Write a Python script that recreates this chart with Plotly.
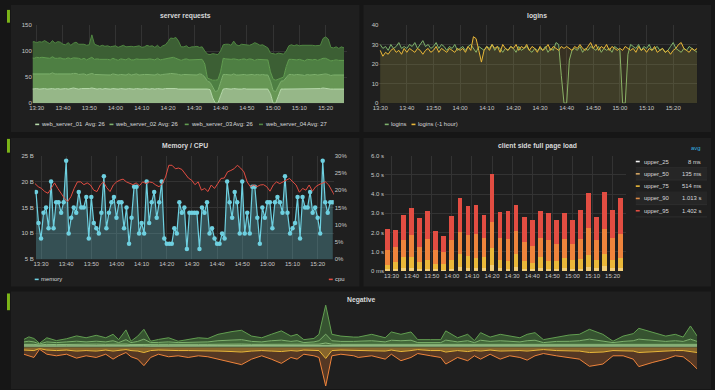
import pandas as pd
import plotly.graph_objects as go

W, H = 715, 390
DAY = "2016-01-01 "
FONT = "Liberation Sans"

def px(x):
    return x / W

def py(y):
    return 1 - y / H

# ---------------- data: server requests (per minute, 13:28 ->) ----------------
req_names = ["web_server_01", "web_server_02", "web_server_03", "web_server_04"]
req_avgs = ["Avg: 26", "Avg: 26", "Avg: 26", "Avg: 27"]
s1 = [27,28,28,27,28,28,27,28,28,27, 28,27,28,28,27,28,29,28,27,28,
      28,27,28,29,28,27,28,27,28,27, 27,28,27,27,28,27,27,28,27,27,
      28,27,27,28,27,27,28,27,28,27, 27,28,28,29,28,28,27,27,28,27,
      27,28,27,27,28,27,27,27,26,10, 0,0,14,27,28,27,27,28,27,27,
      27,28,27,27,28,27,27,27,28,27, 27,18,0,0,12,27,27,27,27,28,
      27,27,28,27,27,28,27,27,28,27, 28,29,28,28,27,27,27,28,27,27]
s2 = [29,28,29,30,28,29,29,28,30,29, 28,29,28,27,29,28,28,29,28,27,
      28,27,28,28,27,28,27,28,27,28, 27,28,28,27,27,28,27,28,27,28,
      28,27,28,27,28,28,27,27,28,27, 28,27,28,28,29,28,28,27,27,28,
      27,27,28,27,28,28,23,15,14,20, 22,24,26,28,27,28,27,28,27,27,
      28,27,27,28,27,27,28,27,27,27, 27,24,24,22,20,15,16,23,28,27,
      27,28,27,27,26,27,27,28,27,27, 27,27,28,27,26,27,27,26,27,27]
s3 = [31,30,31,30,32,30,31,30,31,30, 30,31,29,30,31,29,30,30,31,29,
      30,29,30,31,29,30,29,29,30,29, 29,30,29,28,30,29,29,30,29,28,
      29,30,29,28,29,30,29,29,30,29, 29,30,29,30,31,30,29,28,29,30,
      29,28,29,29,28,29,25,6,6,14, 22,21,20,31,30,29,30,29,30,29,
      29,30,29,30,29,28,29,30,29,29, 29,18,22,22,14,6,7,20,29,29,
      29,28,29,29,28,29,29,28,29,28, 29,30,30,29,28,28,29,28,28,28]
s4 = [30,32,28,31,29,33,30,28,31,29, 32,30,28,27,29,26,28,30,27,29,
      27,28,26,43,29,26,25,27,24,26, 25,23,26,25,24,27,25,23,26,25,
      24,26,23,25,27,24,26,24,25,23, 26,27,33,38,36,40,35,26,24,25,
      23,25,24,26,23,24,25,46,47,51, 50,48,40,26,28,29,27,34,28,27,
      29,27,28,26,29,34,30,27,28,26, 23,36,49,50,50,47,44,30,26,28,
      27,29,26,28,30,27,29,28,26,29, 27,38,41,39,26,24,25,23,26,24]

# ---------------- data: logins (per minute, 13:30 ->) ----------------
logins = [30,28,29,27,30,28,29,31,28,29, 28,30,29,31,28,30,32,29,30,28,
          29,31,28,30,29,27,29,28,30,27, 28,29,27,29,30,28,26,29,28,27,
          29,28,30,27,29,28,26,28,27,29, 28,26,29,27,28,29,27,26,28,27,
          28,27,29,26,28,27,31,30,14,0, 0,22,27,28,27,29,26,28,27,29,
          28,27,29,26,28,27,28,26,29,28, 27,0,0,25,30,29,28,30,27,29,
          28,30,27,28,29,27,28,26,27,29, 31,28,27,26,28,27,29,28,27,26]
logins_1h = [27,24,26,25,27,28,26,27,25,28, 26,28,27,26,28,27,25,27,28,26,
             27,29,26,28,27,26,28,27,26,28, 27,28,26,29,27,34,33,27,21,27,
             29,27,30,28,29,26,30,28,27,29, 28,30,27,29,28,30,27,29,28,26,
             29,27,28,30,27,29,28,27,29,28, 29,28,27,29,28,30,28,27,29,31,
             28,30,27,29,28,30,27,29,28,27, 28,27,29,28,27,28,26,29,27,28,
             26,28,27,29,26,27,28,26,27,25, 27,28,30,31,28,27,26,28,27,28]

# ---------------- data: memory / cpu ----------------
memory = [18,12,9,14,15,11,20,11,16,16, 14,16,24,10,13,15,14,18,15,15,
          17,9,17,12,11,10,14,21,11,14, 16,17,13,16,16,11,15,8,13,19,
          19,10,12,10,20,12,16,18,13,16, 20,9,8,8,8,11,10,16,14,15,
          7,14,14,14,14,7,15,14,16,10, 11,9,8,8,10,9,20,16,13,18,
          16,10,20,10,14,10,19,19,13,8, 15,13,16,16,11,16,17,16,14,21,
          14,10,11,12,17,9,17,15,15,18, 14,15,13,10,24,16,14,16,16]
cpu = [21.9,21.0,20.5,19.6,19.1,20.5,22.1,20.5,19.1,17.7, 16.7,18.1,20.5,22.4,22.4,21.6,22.1,21.5,20.0,19.6,
       21.5,22.4,20.7,19.6,21.5,22.4,22.9,23.2,22.4,21.9, 21.6,22.1,21.3,22.4,21.9,22.4,22.2,21.5,21.0,21.9,
       23.8,27.2,27.2,26.2,26.4,26.0,24.8,23.5,22.9,21.6, 22.4,20.0,20.5,19.6,21.5,20.5,21.9,23.4,23.5,25.3,
       25.7,26.2,27.2,26.4,25.3,22.4,21.0,21.5,21.0,21.5, 21.6,21.0,19.7,21.5,22.4,21.9,22.4,22.9,23.4,22.4,
       21.5,19.4,20.5,20.0,21.5,19.7,21.0,21.6,21.9,22.4, 21.5,20.0,18.1]

# ---------------- data: client side full page load (every 4 min) ----------------
load_names = ["upper_25", "upper_50", "upper_75", "upper_90", "upper_95"]
load_avgs = ["8 ms", "135 ms", "514 ms", "1.013 s", "1.402 s"]
u25 = [0.01,0.01,0.02,0.01,0.01,0.02,0.01,0.01,0.01,0.02, 0.01,0.02,0.01,0.03,0.01,0.01,0.02,0.01,0.01,0.01,
       0.01,0.01,0.02,0.01,0.01,0.02,0.01,0.02,0.01,0.01]
u50 = [0.09,0.09,0.14,0.14,0.09,0.09,0.09,0.07,0.09,0.19, 0.14,0.14,0.14,0.29,0.14,0.09,0.19,0.09,0.09,0.14,
       0.09,0.09,0.14,0.09,0.09,0.19,0.14,0.24,0.14,0.14]
u75 = [0.2,0.35,0.55,0.6,0.35,0.45,0.25,0.27,0.5,0.7, 0.65,0.5,0.6,0.9,0.45,0.45,0.7,0.4,0.3,0.6,
       0.45,0.4,0.5,0.5,0.55,0.65,0.45,0.65,0.45,0.55]
u90 = [0.8,0.8,0.9,1.15,0.8,1.1,0.75,0.65,1.0,1.1, 1.1,1.25,0.95,1.35,1.1,1.1,1.15,1.0,0.9,0.95,
       1.05,0.9,1.0,0.8,1.0,1.4,1.0,1.3,1.1,1.25]
u95 = [1.1,0.9,1.3,1.4,1.5,1.45,1.0,0.8,1.25,1.8, 1.5,1.55,1.2,2.5,1.35,1.45,1.4,1.3,1.35,1.4,
       1.4,1.25,1.35,1.25,1.5,1.8,1.2,1.9,1.45,1.85]

# ---------------- data: Negative ----------------
neg_t = [0,0.9,1.8,2.8,4.1,5.8,7.6,9.4,11.1,12.9, 14.6,15.9,16.9,18.2,19.1,20.3,21.4,22.6,24.0,25.8,
         27.5,29.3,31.1,32.8,34.6,37.1,38.8,40.6,42.4,44.1, 45.9,47.6,48.7,49.9,51.7,52.6,53.8,54.9,56.5,58.8,
         59.6,62.0,64.4,65.5,67.2,69.0,70.2,72.5,74.3,75.2, 77.3,79.1,80.3,81.4,83.1,84.9,86.6,88.4,89.7,91.1,
         92.6,94.9,97.2,99.0,100.8,103.2,105.0,106.8,108.6,109.6, 112.1,114.4,116.1,117.5,118.8,120.0]
g1 = [1.8,1.9,1.8,1.5,1.8,1.7,1.8,1.9,1.8,1.9, 1.8,1.9,1.7,1.9,1.7,1.8,1.9,1.7,1.8,1.8,
      1.7,1.8,1.8,1.8,1.9,1.9,1.9,1.8,1.8,1.9, 1.9,1.8,1.9,1.7,1.8,1.9,2.2,1.9,1.8,1.8,
      1.8,1.9,1.8,1.9,1.9,1.9,1.7,1.7,1.7,1.9, 1.8,1.9,1.7,1.9,1.8,1.9,1.8,1.8,1.9,1.9,
      1.7,1.8,1.8,1.9,1.9,1.9,1.7,1.8,1.9,1.9, 1.9,1.8,1.9,1.8,1.9,1.8]
g2 = [1.5,1.6,1.5,1.2,1.5,1.4,1.5,1.6,1.5,1.6, 1.5,1.6,1.4,1.7,1.4,1.5,1.7,1.4,1.5,1.5,
      1.4,1.5,1.5,1.5,1.6,1.7,1.7,1.5,1.5,1.6, 1.7,1.5,1.6,1.4,1.5,1.6,2.5,1.6,1.5,1.5,
      1.5,1.6,1.5,1.6,1.6,1.6,1.4,1.4,1.4,1.7, 1.5,1.6,1.4,1.6,1.5,1.6,1.5,1.5,1.6,1.6,
      1.4,1.5,1.6,1.6,1.7,1.6,1.4,1.5,1.6,1.7, 1.6,1.5,1.6,1.5,1.7,1.5]
g3 = [2.5,3,2.5,1,2.5,2,2.5,3,2.5,3, 2.5,3.5,2,4.5,2,3,5,2,2,2.5,
      2,2,2.5,2.5,3.5,4,4.5,3,2.5,3.5, 4,3,3.5,2,2.5,3.5,9,3.5,3,3,
      3,3.5,2.5,4,3.5,4,2,2,2,4, 2.5,3.5,2,4,3,3.5,3,2.5,3.5,4,
      2,3,3,3.5,5,3.5,2,3,3.5,5, 4,3,3.5,3,5,3]
g4 = [2.5,4.4,3.5,0.7,4.2,2,3.2,5.4,4.2,6, 4.2,6.5,3,9.9,1.4,5.4,10,1.4,3,4.2,
      1.4,3,4.2,3.5,6.5,8.7,9.5,5.4,4.2,6.5, 9.4,5.4,6.5,3,3.5,6.5,29.4,6.5,5.4,4.4,
      4.4,6.5,4.2,8.4,6.5,8.4,3,3,3,9.4, 4.2,6.5,2,7.7,4.4,6.5,5.4,4.2,6.5,7.7,
      3,4.4,6.4,6.5,10,6.5,1.4,5.4,7.2,11, 7.7,5.4,6.5,4.4,13.4,5.4]
n1 = [2.5,3,3,1,2.5,3,2.5,3.5,3,3.5, 2.5,3.5,3,2,3,3.5,5,3,2.5,3,
      3,3,3,3,3.5,4,4.5,3.5,3,3.5, 4,3,3.5,2.5,3,3,11,3,2.5,3,
      3,3,3.5,2.5,4,3,2,3,3,4.5, 3,4,3,3.5,2.5,3.5,3,3,3.5,3,
      2,3,3,3.5,5,4.5,3,3,3.5,5, 4,3.5,3,3,4,5]
n2 = [4.2,5.3,7,0.7,4.2,5.3,4.2,7.2,5.3,6.5, 4.2,8.2,5.3,3,6.3,8.2,13.3,7,4.2,6.3,
      5.3,7,5.3,6.3,8.2,11,12.8,8.2,5.3,8.2, 12,7,8.2,4.2,5.3,7,28,5.3,4.2,5.3,
      7,5.3,8.2,4.2,9.3,7,4,5.3,7,12.2, 7,9.3,5.3,8.2,4.2,8.2,5.3,7,9.2,5.3,
      4,5.3,7,8.2,14,12.2,5.3,5.3,8.2,14.3, 11,8.2,5.3,6.3,11,16.7]

req_times = pd.date_range(DAY + "13:28", periods=len(s1), freq="1min")
login_times = pd.date_range(DAY + "13:30", periods=len(logins), freq="1min")
mem_times = pd.date_range(DAY + "13:28", DAY + "15:26", periods=len(memory))
cpu_times = pd.date_range(DAY + "13:27:36", DAY + "15:27", periods=len(cpu))
bar_times = pd.date_range(DAY + "13:28", periods=len(u95), freq="4min")

# ---------------- styling ----------------
PAGE = "#161616"
PANEL = "#1f1f1f"
GRID = "#333333"
TICK = dict(family=FONT, size=6, color="#c8c8c8")
TEXT = "#d8d9da"
LEG = 5.9

req_lines = ["#b7dbab", "#7eb26d", "#629e51", "#508642"]
req_fills = ["#96b788", "#679755", "#4e7f43", "#3c5f34"]
load_colors = ["#fbe9c9", "#f2cf7a", "#eab839", "#ef843c", "#e24d42"]
load_marks = ["#f4f4f4", "#d6a763", "#eab839", "#dd8a45", "#e24d42"]

fig = go.Figure()

# server requests
for name, vals, lc, fc in zip(req_names, [s1, s2, s3, s4], req_lines, req_fills):
    fig.add_trace(go.Scatter(x=req_times, y=vals, name=name, mode="lines", stackgroup="req",
                             line=dict(color=lc, width=1), fillcolor=fc, xaxis="x", yaxis="y"))

# logins
fig.add_trace(go.Scatter(x=login_times, y=logins, name="logins", mode="lines", fill="tozeroy",
                         line=dict(color="#7eb26d", width=1), fillcolor="rgba(126,178,109,0.10)",
                         xaxis="x2", yaxis="y2"))
fig.add_trace(go.Scatter(x=login_times, y=logins_1h, name="logins (-1 hour)", mode="lines", fill="tozeroy",
                         line=dict(color="#eab839", width=1), fillcolor="rgba(234,184,57,0.12)",
                         xaxis="x2", yaxis="y2"))

# memory / cpu
fig.add_trace(go.Scatter(x=mem_times, y=memory, name="memory", mode="lines+markers", fill="tozeroy",
                         line=dict(color="#6ed0e0", width=1.2), marker=dict(size=4.5, color="#6ed0e0"),
                         fillcolor="rgba(110,208,224,0.28)", xaxis="x3", yaxis="y3"))
fig.add_trace(go.Scatter(x=cpu_times, y=cpu, name="cpu", mode="lines",
                         line=dict(color="#e24d42", width=1), xaxis="x3", yaxis="y4"))

# client side full page load
for name, vals, c in zip(load_names, [u25, u50, u75, u90, u95], load_colors):
    fig.add_trace(go.Bar(x=bar_times, y=vals, name=name, marker=dict(color=c, line=dict(width=0)),
                         xaxis="x4", yaxis="y5"))

# Negative
neg_fills = ["#668656", "#527a45", "#43693a", "#365330"]
neg_lines = ["#a9cf98", "#8cbb7a", "#7eb26d", "#629e51"]
for vals, lc, fc in zip([g1, g2, g3, g4], neg_lines, neg_fills):
    fig.add_trace(go.Scatter(x=neg_t, y=vals, mode="lines", stackgroup="negpos",
                             line=dict(color=lc, width=1), fillcolor=fc, xaxis="x5", yaxis="y6"))
for vals, lc, fc in zip([n1, n2], ["#eab839", "#ef843c"], ["#86652c", "#553824"]):
    fig.add_trace(go.Scatter(x=neg_t, y=[-v for v in vals], mode="lines", stackgroup="negneg",
                             line=dict(color=lc, width=1), fillcolor=fc, xaxis="x5", yaxis="y6"))

# ---------------- axes ----------------
def taxis(x0, x1, r0, r1, anchor):
    return dict(domain=[px(x0), px(x1)], anchor=anchor, type="date",
                range=[DAY + r0, DAY + r1], tickformat="%H:%M", dtick=600000,
                tick0=DAY + "13:30", showgrid=True, gridcolor=GRID, gridwidth=1,
                zeroline=False, showline=False, ticks="", tickfont=TICK, fixedrange=True)

def vaxis(y0, y1, anchor, **kw):
    d = dict(domain=[py(y1), py(y0)], anchor=anchor, showgrid=True, gridcolor=GRID,
             gridwidth=1, zeroline=False, showline=False, ticks="", tickfont=TICK)
    d.update(kw)
    return d

fig.update_layout(
    xaxis=taxis(26, 343, "13:28:30", "15:28", "y"),
    yaxis=vaxis(22.3, 101.7, "x", range=[0, 150], dtick=50),
    xaxis2=taxis(376, 697, "13:29:40", "15:29", "y2"),
    yaxis2=vaxis(22.3, 101.7, "x2", range=[0, 40], dtick=10),
    xaxis3=taxis(28, 330, "13:27:30", "15:26:24", "y3"),
    yaxis3=vaxis(155, 260.3, "x3", range=[5, 25], dtick=5, ticksuffix=" B"),
    yaxis4=dict(overlaying="y3", side="right", anchor="x3", range=[0, 30], dtick=5, ticksuffix="%",
                showgrid=False, zeroline=False, showline=False, ticks="", tickfont=TICK),
    xaxis4=taxis(381.7, 625, "13:26:45", "15:26:36", "y5"),
    yaxis5=vaxis(155, 272.3, "x4", range=[0, 6], tickvals=[0, 1, 2, 3, 4, 5, 6],
                 ticktext=["0 ms", "1.0 s", "2.0 s", "3.0 s", "4.0 s", "5.0 s", "6.0 s"]),
    xaxis5=dict(domain=[px(17), px(697)], anchor="y6", range=[0, 120], showgrid=False,
                zeroline=False, showticklabels=False, ticks=""),
    yaxis6=dict(domain=[0, py(300)], anchor="x5", range=[-40, 50], showgrid=False,
                zeroline=False, showticklabels=False, ticks=""),
    barmode="stack", bargap=0.42,
    showlegend=False,
    width=W, height=H,
    margin=dict(l=0, r=0, t=0, b=0),
    paper_bgcolor=PAGE, plot_bgcolor="rgba(0,0,0,0)",
    font=dict(family=FONT, color=TEXT),
)

shapes = []
annotations = []

def rect(x0, y0, x1, y1, color, layer="below"):
    shapes.append(dict(type="rect", xref="paper", yref="paper", x0=px(x0), x1=px(x1),
                       y0=py(y1), y1=py(y0), fillcolor=color, line=dict(width=0), layer=layer))

def text(x, y, s, size=LEG, anchor="left", color=TEXT, bold=False):
    annotations.append(dict(x=px(x), y=py(y), xref="paper", yref="paper", text=s, showarrow=False,
                            xanchor=anchor, yanchor="middle", borderpad=0,
                            font=dict(family=FONT, size=size, color=color,
                                      weight="bold" if bold else "normal")))

def dash(x, y, color):
    rect(x, y - 0.8, x + 4, y + 0.8, color, layer="above")

# panels
rect(4, 2, 356, 131, PANEL)
rect(360, 2, 711, 131, PANEL)
rect(4, 137, 356, 288, PANEL)
rect(360, 137, 711, 288, PANEL)
rect(4, 293, 711, 392, PANEL)
# row markers
GREEN = "#7cb518"
rect(0, 7, 3, 20, GREEN, layer="above")
rect(0, 138, 3, 152, GREEN, layer="above")
rect(0, 295, 3, 312, GREEN, layer="above")

# titles
TS = 6.8
text(180, 12.7, "server requests", size=TS, anchor="center", bold=True)
text(535.5, 12.7, "logins", size=TS, anchor="center", bold=True)
text(180, 145, "Memory / CPU", size=TS, anchor="center", bold=True)
text(535.5, 145, "client side full page load", size=TS, anchor="center", bold=True)
text(358, 302, "Negative", size=TS, anchor="center", bold=True)

# legend: server requests
leg_x = [(28.5, 33.3, 77.3), (103.5, 108.3, 151.7), (179.5, 184.5, 227.7), (254.5, 259.3, 301.7)]
for (dx, nx, ax), name, avg, c in zip(leg_x, req_names, req_avgs, req_lines):
    dash(dx, 123.3, c)
    text(nx, 123.3, name)
    text(ax, 123.3, avg)

# legend: logins
dash(381.5, 123.3, "#7eb26d")
text(386.7, 123.3, "logins")
dash(408.5, 123.3, "#eab839")
text(414.3, 123.3, "logins (-1 hour)")

# legend: memory / cpu
dash(28, 280.7, "#6ed0e0")
text(33.3, 280.7, "memory")
dash(325, 280.7, "#e24d42")
text(330.5, 280.7, "cpu")

# legend table: client side full page load
text(702, 147.5, "avg", anchor="right", color="#33b5e5")
for i, (name, avg, c) in enumerate(zip(load_names, load_avgs, load_marks)):
    yc = 161 + 12.5 * i
    if i % 2 == 1:
        rect(635, yc - 6.25, 707, yc + 6.25, "#262626")
    shapes.append(dict(type="line", xref="paper", yref="paper", x0=px(635), x1=px(707),
                       y0=py(yc + 6.25), y1=py(yc + 6.25), line=dict(color="#2e2e2e", width=1),
                       layer="below"))
    dash(635, yc, c)
    text(642.7, yc, name)
    text(701.7, yc, avg, anchor="right")

fig.update_layout(shapes=shapes, annotations=annotations)
fig.write_html("out.html", config={"displayModeBar": False},
               post_script="document.body.style.margin='0';document.body.style.overflow='hidden';")
